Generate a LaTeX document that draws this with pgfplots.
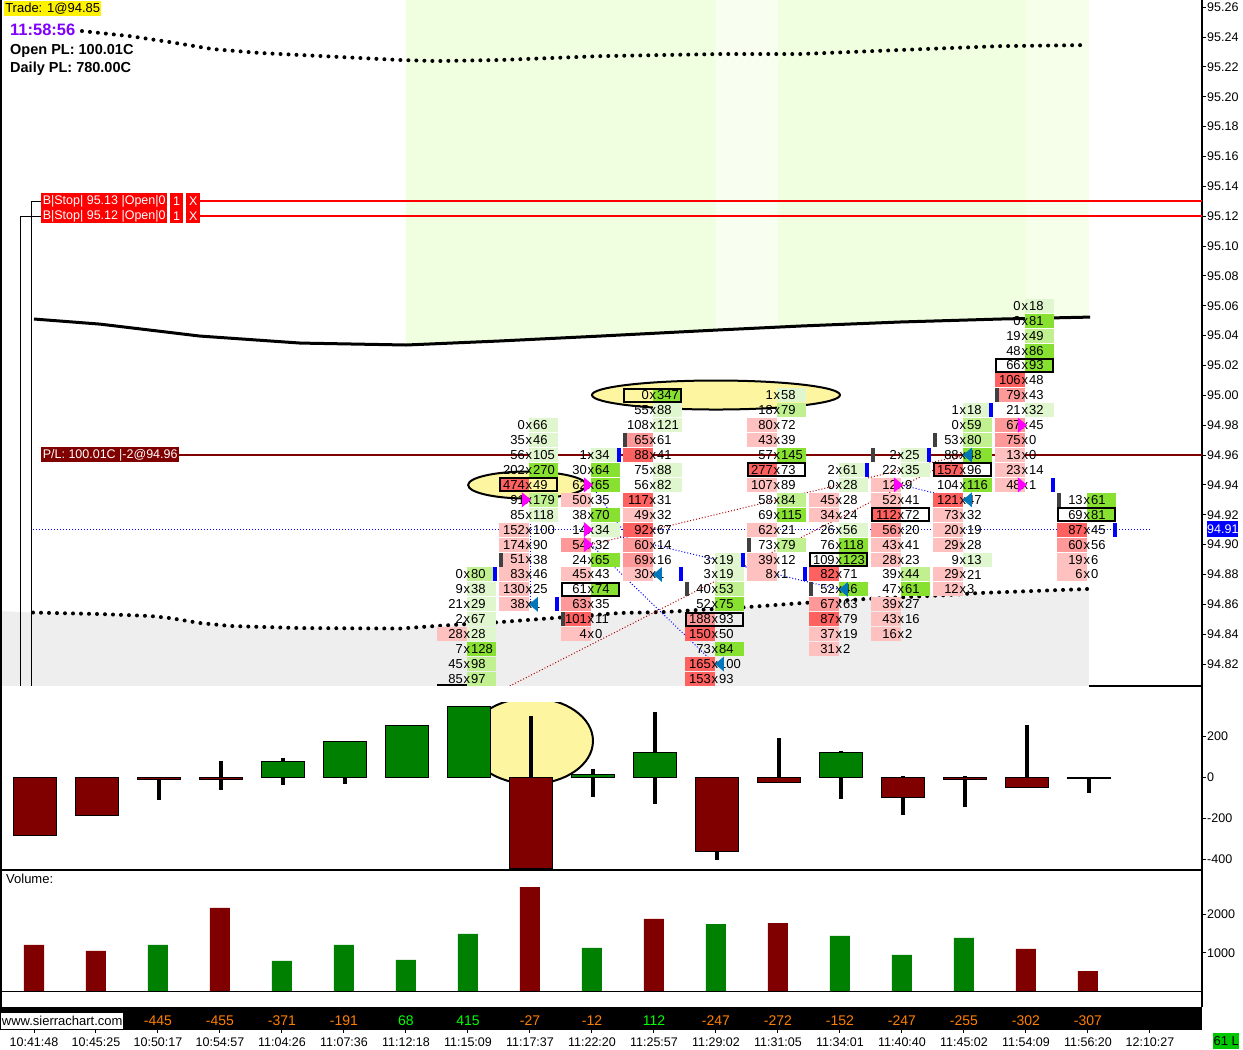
\documentclass[border=0pt]{standalone}
\usepackage{fontspec}
\setmainfont{Liberation Sans}
\usepackage{pgfplots}
\usepackage{pgfplotstable}
\pgfplotsset{compat=1.18}
\newcommand\fs[1]{\fontsize{#1}{#1}\selectfont}

\definecolor{rL}{HTML}{FFC0C0}
\definecolor{rM}{HTML}{FF9999}
\definecolor{rS}{HTML}{FF6060}
\definecolor{gL}{HTML}{E0F6CE}
\definecolor{gM}{HTML}{C0F090}
\definecolor{gS}{HTML}{88E030}
\definecolor{bandA}{HTML}{F0FFE0}
\definecolor{bandB}{HTML}{F8FFF0}
\definecolor{bandC}{HTML}{F5FFEA}
\definecolor{greyzone}{HTML}{EEEEEE}
\definecolor{ell}{HTML}{FDF5A0}
\definecolor{dred}{HTML}{800000}
\definecolor{dgreen}{HTML}{008000}
\definecolor{trg}{HTML}{0077BB}
\definecolor{trm}{HTML}{FF00FF}
\definecolor{stripor}{HTML}{FF8000}

% marks, sizes in picture pixels
\pgfdeclareplotmark{nil}{}
\pgfdeclareplotmark{cellL}{\pgfpathrectangle{\pgfpoint{-29.5pt}{-7pt}}{\pgfpoint{29.5pt}{14pt}}\pgfusepathqfill}
\pgfdeclareplotmark{cellR}{\pgfpathrectangle{\pgfpoint{0pt}{-7pt}}{\pgfpoint{29.5pt}{14pt}}\pgfusepathqfill}
\pgfdeclareplotmark{cellB}{\pgfpathrectangle{\pgfpoint{-29pt}{-6.5pt}}{\pgfpoint{57.5pt}{13pt}}\pgfusepathqstroke}
\pgfdeclareplotmark{barL}{\pgfpathrectangle{\pgfpoint{-30pt}{-7pt}}{\pgfpoint{4pt}{14pt}}\pgfusepathqfill}
\pgfdeclareplotmark{barR}{\pgfpathrectangle{\pgfpoint{26pt}{-7pt}}{\pgfpoint{4pt}{14pt}}\pgfusepathqfill}
\pgfdeclareplotmark{triR}{\pgfpathmoveto{\pgfpoint{-7pt}{7.5pt}}\pgfpathlineto{\pgfpoint{2pt}{0pt}}\pgfpathlineto{\pgfpoint{-7pt}{-7.5pt}}\pgfpathclose\pgfusepathqfill}
\pgfdeclareplotmark{triL}{\pgfpathmoveto{\pgfpoint{9pt}{7.5pt}}\pgfpathlineto{\pgfpoint{0pt}{0pt}}\pgfpathlineto{\pgfpoint{9pt}{-7.5pt}}\pgfpathclose\pgfusepathqfill}
\pgfdeclareplotmark{ellA}{\pgfpathellipse{\pgfpointorigin}{\pgfpoint{59pt}{0pt}}{\pgfpoint{0pt}{13.5pt}}\pgfusepathqfillstroke}
\pgfdeclareplotmark{ellB}{\pgfpathellipse{\pgfpointorigin}{\pgfpoint{124pt}{0pt}}{\pgfpoint{0pt}{14.5pt}}\pgfusepathqfillstroke}
\pgfdeclareplotmark{ellC}{\pgfpathellipse{\pgfpointorigin}{\pgfpoint{62pt}{0pt}}{\pgfpoint{0pt}{43pt}}\pgfusepathqfillstroke}

% footprint rows: column, price, bid, ask, left shade, right shade
\pgfplotstableread{
i p b a lc rc
7 94.88 0 80 0 2
7 94.87 9 38 0 1
7 94.86 21 29 0 1
7 94.85 2 67 0 1
7 94.84 28 28 1 1
7 94.83 7 128 0 3
7 94.82 45 98 0 2
7 94.81 85 97 0 2
8 94.98 0 66 0 1
8 94.97 35 46 0 1
8 94.96 56 105 0 1
8 94.95 202 270 0 3
8 94.94 474 49 3 0
8 94.93 91 179 0 2
8 94.92 85 118 0 1
8 94.91 152 100 1 0
8 94.90 174 90 1 0
8 94.89 51 38 1 0
8 94.88 83 46 1 0
8 94.87 130 25 1 0
8 94.86 38 1 1 0
9 94.96 1 34 0 1
9 94.95 30 64 0 3
9 94.94 62 65 0 3
9 94.93 50 35 1 0
9 94.92 38 70 0 3
9 94.91 14 34 0 1
9 94.90 54 32 2 0
9 94.89 24 65 0 3
9 94.88 45 43 1 0
9 94.87 61 74 0 3
9 94.86 63 35 2 0
9 94.85 101 11 3 0
9 94.84 4 0 1 0
10 95.00 0 347 0 3
10 94.99 55 88 0 1
10 94.98 108 121 0 1
10 94.97 65 61 2 0
10 94.96 88 41 3 0
10 94.95 75 88 0 1
10 94.94 56 82 0 1
10 94.93 117 31 3 0
10 94.92 49 32 1 0
10 94.91 92 67 3 0
10 94.90 60 14 2 0
10 94.89 69 16 2 0
10 94.88 30 1 1 0
11 94.89 3 19 0 1
11 94.88 3 19 0 1
11 94.87 40 53 0 2
11 94.86 52 75 0 3
11 94.85 188 93 2 0
11 94.84 150 50 3 0
11 94.83 73 84 0 3
11 94.82 165 100 3 0
11 94.81 153 93 3 0
12 95.00 1 58 0 1
12 94.99 18 79 0 2
12 94.98 80 72 1 0
12 94.97 43 39 1 0
12 94.96 57 145 0 3
12 94.95 277 73 3 0
12 94.94 107 89 1 0
12 94.93 58 84 0 2
12 94.92 69 115 0 3
12 94.91 62 21 1 0
12 94.90 73 79 0 2
12 94.89 39 12 1 0
12 94.88 8 1 1 0
13 94.95 2 61 0 1
13 94.94 0 28 0 1
13 94.93 45 28 1 0
13 94.92 34 24 1 0
13 94.91 26 56 0 1
13 94.90 76 118 0 3
13 94.89 109 123 0 3
13 94.88 82 71 3 0
13 94.87 52 46 0 3
13 94.86 67 63 2 0
13 94.85 87 79 3 0
13 94.84 37 19 1 0
13 94.83 31 2 1 0
14 94.96 2 25 0 1
14 94.95 22 35 0 1
14 94.94 12 9 1 0
14 94.93 52 41 1 0
14 94.92 112 72 3 0
14 94.91 56 20 2 0
14 94.90 43 41 1 0
14 94.89 28 23 1 0
14 94.88 39 44 0 2
14 94.87 47 61 0 3
14 94.86 39 27 1 0
14 94.85 43 16 1 0
14 94.84 16 2 1 0
15 94.99 1 18 0 1
15 94.98 0 59 0 2
15 94.97 53 80 0 2
15 94.96 88 48 0 3
15 94.95 157 96 3 0
15 94.94 104 116 0 3
15 94.93 121 47 3 0
15 94.92 73 32 1 0
15 94.91 20 19 1 0
15 94.90 29 28 1 0
15 94.89 9 13 0 1
15 94.88 29 21 1 0
15 94.87 12 3 1 0
16 95.06 0 18 0 1
16 95.05 0 81 0 3
16 95.04 19 49 0 2
16 95.03 48 86 0 3
16 95.02 66 93 0 3
16 95.01 106 48 3 0
16 95.00 79 43 2 0
16 94.99 21 32 0 1
16 94.98 67 45 2 0
16 94.97 75 0 2 0
16 94.96 13 0 1 0
16 94.95 23 14 1 0
16 94.94 48 1 1 0
17 94.93 13 61 0 3
17 94.92 69 81 0 3
17 94.91 87 45 3 0
17 94.90 60 56 2 0
17 94.89 19 6 1 0
17 94.88 6 0 1 0
}\cells

% candle wicks: bar index, high, low
\pgfplotstableread{
i hi lo
0 0 -283
1 0 -185
2 0 -112
3 78 -63
4 93 -39
5 176 -34
6 254 -5
7 348 0
8 298 -444
9 42 -95
10 317 -127
11 0 -400
12 190 -24
13 127 -107
14 5 -185
15 5 -146
16 254 -49
17 0 -78
}\candles

\begin{document}
\begin{tikzpicture}[x=1pt,y=1pt]
\useasboundingbox (0,0) rectangle (1243,1050);

%------ price pane
\begin{axis}[
  name=price, at={(0pt,364pt)}, anchor=south west,
  scale only axis, width=1202pt, height=686pt,
  xmin=-0.5323, xmax=18.855, ymin=94.8053, ymax=95.2648,
  axis x line=none, axis y line=right,
  axis line style={-, line width=1.5pt},
  ytick={94.82,94.84,94.86,94.88,94.90,94.92,94.94,94.96,94.98,95.00,95.02,95.04,95.06,95.08,95.10,95.12,95.14,95.16,95.18,95.20,95.22,95.24,95.26},
  tick style={black, line width=1pt}, major tick length=4pt, tick align=outside,
  yticklabel style={font=\fs{12.5}, anchor=west, inner sep=0pt, xshift=1pt},
  scaled y ticks=false,
  /pgf/number format/.cd, fixed, fixed zerofill, precision=2, assume math mode=true,
]
% zones behind the price
\addplot[fill=bandA, draw=none] coordinates {(6.016,95.2648)(11.016,95.2648)(11.016,95.0437)(6.016,95.0337)} -- cycle;
\addplot[fill=bandB, draw=none] coordinates {(11.016,95.2648)(12.016,95.2648)(12.016,95.0457)(11.016,95.0437)} -- cycle;
\addplot[fill=bandA, draw=none] coordinates {(12.016,95.2648)(16.016,95.2648)(16.016,95.0511)(12.016,95.0457)} -- cycle;
\addplot[fill=bandC, draw=none] coordinates {(16.016,95.2648)(17.03,95.2648)(17.03,95.0524)(16.016,95.0511)} -- cycle;
\addplot[fill=greyzone, draw=none] coordinates {(-0.532,94.8555)(0,94.8545)(1.08,94.8535)(1.89,94.8522)(2.21,94.8508)(2.69,94.8475)(3.18,94.8455)(4.31,94.8441)(5.92,94.8438)(6.5,94.8455)(7.53,94.8481)(9.47,94.8542)(10.16,94.8548)(11.53,94.8582)(12.42,94.8609)(13.44,94.8636)(14.74,94.8662)(15.27,94.8676)(17.03,94.8703)(17.03,94.8053)(-0.532,94.8053)} -- cycle;
% moving averages
\addplot[black, line width=3pt] coordinates {(0.016,95.0511)(1.08,95.0477)(2.69,95.0397)(4.31,95.0350)(6.02,95.0337)(7.53,95.0364)(9.15,95.0397)(11.02,95.0437)(12.37,95.0464)(13.98,95.0491)(15.6,95.0511)(17.05,95.0524)};
\addplot[black, line width=4pt, line cap=round, dash pattern=on 0pt off 8pt] coordinates {(0.79,95.2440)(1.56,95.2406)(2.21,95.2366)(2.90,95.2319)(3.66,95.2293)(5.92,95.2246)(6.5,95.2239)(7.53,95.2246)(9.15,95.2272)(11.08,95.2286)(12.37,95.2286)(13.98,95.2313)(15.6,95.2339)(16.98,95.2346)};
\addplot[black, line width=4pt, line cap=round, dash pattern=on 0pt off 8pt] coordinates {(0,94.8545)(1.08,94.8535)(1.89,94.8522)(2.21,94.8508)(2.69,94.8475)(3.18,94.8455)(4.31,94.8441)(5.92,94.8438)(6.5,94.8455)(7.53,94.8481)(9.47,94.8542)(10.16,94.8548)(11.53,94.8582)(12.42,94.8609)(13.44,94.8636)(14.74,94.8662)(15.27,94.8676)(17.02,94.8703)};
% ellipses
\addplot[only marks, mark=ellA, mark options={draw=black, fill=ell, line width=2pt}] coordinates {(7.97,94.9399)};
\addplot[only marks, mark=ellB, mark options={draw=black, fill=ell, line width=2pt}] coordinates {(11.016,95.0002)};
% footprint cells
\addplot[scatter, only marks, scatter src=explicit symbolic,
  scatter/classes={0={mark=nil},1={mark=cellL,fill=rL},2={mark=cellL,fill=rM},3={mark=cellL,fill=rS}}]
  table[x=i,y=p,meta=lc] {\cells};
\addplot[scatter, only marks, scatter src=explicit symbolic,
  scatter/classes={0={mark=nil},1={mark=cellR,fill=gL},2={mark=cellR,fill=gM},3={mark=cellR,fill=gS}}]
  table[x=i,y=p,meta=rc] {\cells};
% bid and ask numbers either side of the x
\addplot[only marks, mark=nil, point meta=explicit symbolic,
  nodes near coords={\llap{\pgfplotspointmeta\hspace{1pt}}x},
  every node near coord/.style={anchor=center, inner sep=0pt, font=\fs{13}, text=black}]
  table[x=i,y=p,meta=b] {\cells};
\addplot[only marks, mark=nil, point meta=explicit symbolic,
  nodes near coords={\hphantom{x}\rlap{\hspace{1pt}\pgfplotspointmeta}},
  every node near coord/.style={anchor=center, inner sep=0pt, font=\fs{13}, text=black}]
  table[x=i,y=p,meta=a] {\cells};
% highest-volume rows
\addplot[only marks, mark=cellB, mark options={draw=black, line width=2pt}] coordinates {(8,94.94)(9,94.87)(10,95.00)(11,94.85)(12,94.95)(13,94.89)(14,94.92)(15,94.95)(16,95.02)(17,94.92)};
\addplot[black, line width=2pt] coordinates {(6.52,94.8059)(7.46,94.8059)};
% end-of-bar ticks
\addplot[only marks, mark=barL, mark options={fill=black!75}] coordinates {(8,94.89)(9,94.85)(10,94.97)(11,94.87)(12,94.90)(13,94.87)(14,94.96)(15,94.97)(16,95.00)(17,94.93)};
\addplot[only marks, mark=barR, mark options={fill=blue}] coordinates {(7,94.88)(8,94.86)(9,94.96)(10,94.88)(11,94.89)(12,94.88)(13,94.95)(14,94.96)(15,94.99)(16,94.94)(17,94.91)};
% trade links
\addplot[blue, line width=1pt, dash pattern=on 1pt off 2pt] coordinates {(0,94.91)(18.016,94.91)};
\addplot[blue, line width=1pt, dash pattern=on 1pt off 2pt] coordinates {(8.02,94.93)(8.02,94.86)};
\addplot[blue, line width=1pt, dash pattern=on 1pt off 2pt] coordinates {(9,94.94)(10.02,94.88)};
\addplot[blue, line width=1pt, dash pattern=on 1pt off 2pt] coordinates {(9,94.91)(13,94.87)};
\addplot[blue, line width=1pt, dash pattern=on 1pt off 2pt] coordinates {(9,94.90)(11,94.82)};
\addplot[blue, line width=1pt, dash pattern=on 1pt off 2pt] coordinates {(14,94.94)(15,94.93)};
\addplot[red!70!black, line width=1pt, dash pattern=on 1pt off 2pt] coordinates {(7.69,94.8053)(15,94.96)};
\addplot[red!70!black, line width=1pt, dash pattern=on 1pt off 2pt] coordinates {(9,94.90)(15,94.96)};
\addplot[only marks, mark=triR, mark options={fill=trm}] coordinates {(8,94.93)(9,94.94)(9,94.91)(9,94.90)(14,94.94)(16,94.98)(16,94.94)};
\addplot[only marks, mark=triL, mark options={fill=trg}] coordinates {(8,94.86)(10,94.88)(11,94.82)(13,94.87)(15,94.96)(15,94.93)};
% orders and position
\addplot[dred, line width=2pt] coordinates {(0.145,94.96)(18.855,94.96)};
\addplot[red, line width=2pt] coordinates {(2.694,95.13)(18.855,95.13)};
\addplot[red, line width=2pt] coordinates {(2.694,95.12)(18.855,95.12)};
\addplot[black, line width=1pt] coordinates {(0.129,95.13)(-0.032,95.13)(-0.032,94.8053)};
\addplot[black, line width=1pt] coordinates {(0.129,95.12)(-0.194,95.12)(-0.194,94.8053)};
\end{axis}

%------ delta candles
\begin{axis}[
  at={(0pt,180pt)}, anchor=south west,
  scale only axis, width=1202pt, height=167pt,
  xmin=-0.5645, xmax=18.823, ymin=-451, ymax=363,
  axis x line=bottom, axis y line=right, xtick=\empty,
  axis line style={-, line width=1.5pt},
  ytick={-400,-200,0,200},
  tick style={black, line width=1pt}, major tick length=4pt, tick align=outside,
  yticklabel style={font=\fs{12.5}, anchor=west, inner sep=0pt, xshift=1pt},
  clip marker paths=true, clip mode=individual,
  /pgf/number format/assume math mode=true,
]
\addplot[only marks, mark=ellC, mark options={draw=black, fill=ell, line width=2pt}] coordinates {(8,178)};
\addplot[ycomb, black, line width=4pt] table[x=i,y=hi] {\candles};
\addplot[ycomb, black, line width=4pt] table[x=i,y=lo] {\candles};
\addplot[ybar, bar width=43pt, bar shift=0pt, fill=dred, draw=black, line width=1pt] coordinates {(0,-283)(1,-185)(2,-10)(3,-10)(8,-444)(11,-361)(12,-24)(14,-98)(15,-10)(16,-49)(17,-3)};
\addplot[ybar, bar width=43pt, bar shift=0pt, fill=dgreen, draw=black, line width=1pt] coordinates {(4,78)(5,176)(6,254)(7,348)(9,15)(10,122)(13,120)};
\end{axis}

%------ volume
\begin{axis}[
  at={(0pt,43pt)}, anchor=south west,
  scale only axis, width=1202pt, height=137pt,
  xmin=-0.5484, xmax=18.839, ymin=-403, ymax=3156,
  axis x line=top, axis y line=right, xtick=\empty,
  axis line style={-, line width=1.5pt},
  ytick={1000,2000},
  tick style={black, line width=1pt}, major tick length=4pt, tick align=outside,
  yticklabel style={font=\fs{12.5}, anchor=west, inner sep=0pt, xshift=1pt},
  /pgf/number format/assume math mode=true, /pgf/number format/1000 sep={},
]
\addplot[ybar, bar width=20pt, bar shift=0pt, fill=dred, draw=none] coordinates {(0,1208)(1,1052)(3,2169)(8,2714)(10,1883)(12,1779)(16,1104)(17,532)};
\addplot[ybar, bar width=20pt, bar shift=0pt, fill=dgreen, draw=none] coordinates {(2,1208)(4,792)(5,1208)(6,818)(7,1494)(9,1130)(11,1753)(13,1442)(14,948)(15,1390)};
\addplot[black, line width=1pt] coordinates {(-0.5484,0)(18.839,0)};
\end{axis}

%------ delta strip and time axis
\begin{axis}[
  at={(0pt,20pt)}, anchor=south west,
  scale only axis, width=1202pt, height=23pt,
  xmin=-0.5484, xmax=18.839, ymin=0, ymax=1,
  axis x line=bottom, axis y line=none,
  axis line style={-, draw=none},
  xtick={0,1,...,18},
  xticklabels={10:41:48,10:45:25,10:50:17,10:54:57,11:04:26,11:07:36,11:12:18,11:15:09,11:17:37,11:22:20,11:25:57,11:29:02,11:31:05,11:34:01,11:40:40,11:45:02,11:54:09,11:56:20,12:10:27},
  tick style={black, line width=1pt}, major tick length=3pt, tick align=outside,
  xticklabel style={font=\fs{12.5}, anchor=north, inner sep=0pt, yshift=-5pt},
]
\addplot[fill=black, draw=none] coordinates {(-0.5484,0)(-0.5484,1)(18.839,1)(18.839,0)} -- cycle;
\addplot[only marks, mark=nil, point meta=explicit symbolic, nodes near coords,
  every node near coord/.style={anchor=center, inner sep=0pt, font=\fs{14}, text=stripor}]
  table[meta=t] {
  x y t
  2 0.42 -445
  3 0.42 -455
  4 0.42 -371
  5 0.42 -191
  8 0.42 -27
  9 0.42 -12
  11 0.42 -247
  12 0.42 -272
  13 0.42 -152
  14 0.42 -247
  15 0.42 -255
  16 0.42 -302
  17 0.42 -307
  };
\addplot[only marks, mark=nil, point meta=explicit symbolic, nodes near coords,
  every node near coord/.style={anchor=center, inner sep=0pt, font=\fs{14}, text=green}]
  table[meta=t] {
  x y t
  6 0.42 68
  7 0.42 415
  10 0.42 112
  };
\end{axis}

% frame pieces and captions, y measured from the page bottom
\draw[black, line width=1.5pt] (0.75,1050) -- (0.75,20);
\draw[black, line width=1.5pt] (1202,364) -- (1202,347);
\draw[black, line width=1.5pt] (1089,364) -- (1202,364);
\node[anchor=north west, fill=yellow, inner sep=0pt, minimum width=97pt, minimum height=15pt, font=\fs{13}] at (4,1049) {Trade: 1@94.85};
\node[anchor=west, inner sep=0pt, font=\bfseries\fs{16.5}, text={rgb,255:red,127;green,0;blue,255}] at (10,1020) {11:58:56};
\node[anchor=west, inner sep=0pt, font=\bfseries\fs{14.5}] at (10,999) {Open PL: 100.01C};
\node[anchor=west, inner sep=0pt, font=\bfseries\fs{14.5}] at (10,981) {Daily PL: 780.00C};
\foreach \yy/\pp in {849/95.13,834/95.12}{
  \node[fill=red, text=white, anchor=west, inner sep=0pt, minimum width=126pt, minimum height=15pt, font=\fs{12.5}] at (41,\yy) {B|Stop| \pp{} |Open|0};
  \node[fill=red, text=white, anchor=west, inner sep=0pt, minimum width=13pt, minimum height=15pt, font=\fs{12.5}] at (170,\yy) {1};
  \node[fill=red, text=white, anchor=west, inner sep=0pt, minimum width=14pt, minimum height=15pt, font=\fs{12.5}] at (186,\yy) {X};
}
\node[fill=dred, text=white, anchor=west, inner sep=0pt, minimum width=138pt, minimum height=15pt, font=\fs{12.5}] at (41,595) {P/L: 100.01C |-2@94.96};
\node[fill=blue, text=white, anchor=west, inner sep=0pt, minimum width=31pt, minimum height=16pt, font=\fs{12.5}] at (1207,521) {94.91};
\node[anchor=west, inner sep=0pt, font=\fs{13}] at (6,171) {Volume:};
\node[fill=white, anchor=west, inner sep=0pt, minimum width=122pt, minimum height=16pt, font=\fs{13}] at (1,29) {www.sierrachart.com};
\node[fill={rgb,255:red,0;green,200;blue,0}, anchor=west, inner sep=0pt, minimum width=26pt, minimum height=16pt, font=\fs{13}] at (1213,9) {61 L};
\end{tikzpicture}
\end{document}
